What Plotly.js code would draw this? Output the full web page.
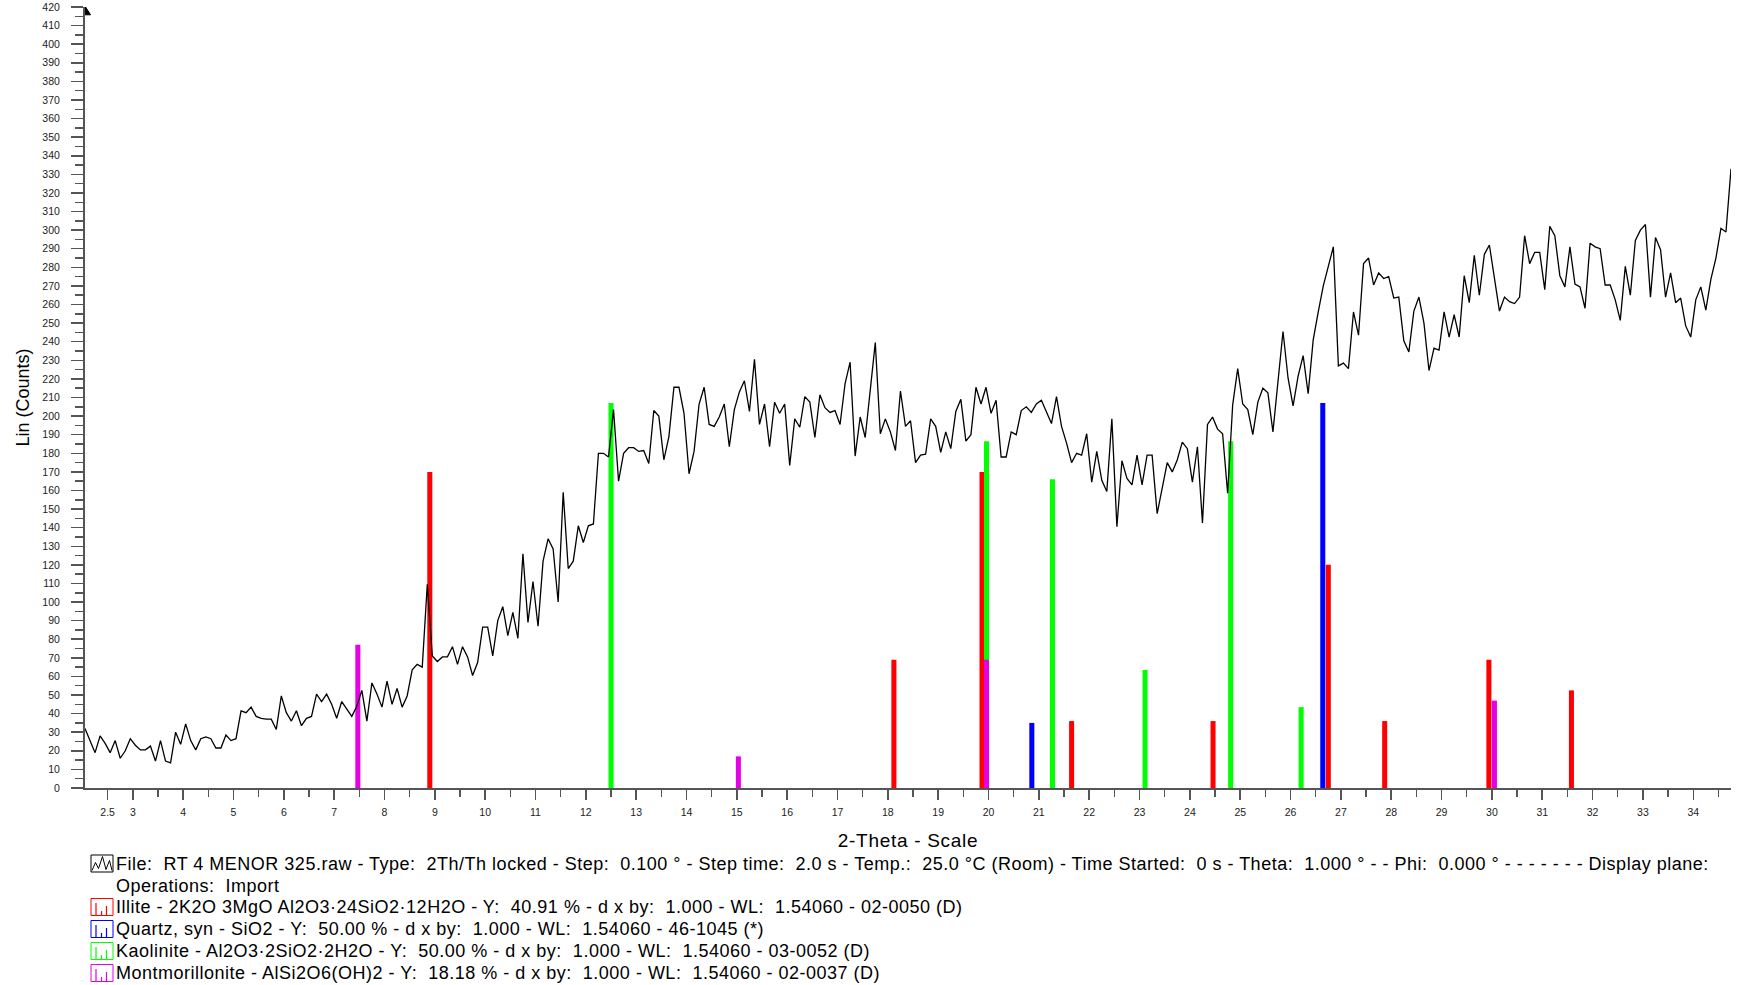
<!DOCTYPE html>
<html><head><meta charset="utf-8">
<script src="https://cdn.plot.ly/plotly-3.0.1.min.js"></script>
<style>
html,body{margin:0;padding:0;background:#fff;overflow:hidden;}
#chart{width:1742px;height:985px;}
.annotation-text{letter-spacing:0.5px;}
.xtitle{letter-spacing:0.7px;}
</style>
</head><body><div id="chart"></div>
<script>
// ---- Measured scan (File: RT 4 MENOR 325.raw, Step 0.100 deg) ----
const startAngle = 2.05;
const stepSize = 0.1;
const counts = [
 32, 25, 19, 28, 24, 19, 25.5, 16, 20, 26.5,
 23, 20.5, 20.5, 22.5, 14.5, 25.5, 14.5, 13.5, 30, 23.5,
 34.5, 25.5, 20.5, 26.5, 27.5, 26.5, 21.5, 21.5, 28.5, 25.5,
 26.5, 41.5, 40.5, 43.5, 38.5, 37.5, 37, 37, 31.5, 49.5,
 40.5, 36, 41.5, 33.5, 37.5, 38.5, 50.5, 46.5, 50.5, 45,
 37.5, 46.5, 42.5, 38.5, 44, 52.5, 36, 56.5, 50.5, 43.5,
 57.5, 45, 53.5, 43.5, 49.5, 63.5, 66.5, 65, 109.5, 71,
 68, 70.5, 70.5, 76, 66.5, 76, 70.5, 60.5, 67.5, 86.5,
 86.5, 71, 90, 97.5, 82, 94.5, 80.5, 126, 89, 111,
 87, 122, 134, 128.5, 100, 159, 118, 122, 141, 132,
 141, 142, 180, 180, 178, 203.5, 165, 180, 183, 183,
 181, 181.5, 174.5, 203, 200, 176.5, 189, 215.5, 215.5, 201.5,
 169, 181, 206.5, 215.5, 195.5, 194.5, 199.5, 206.5, 183.5, 203.5,
 213, 219, 202.5, 230.5, 195.5, 206.5, 183.5, 207.5, 201.5, 206.5,
 173.5, 198.5, 194, 210.5, 207.5, 188.5, 211.5, 204.5, 202, 203,
 195.5, 217.5, 229, 178.5, 199.5, 188.5, 214, 239.5, 190.5, 198.5,
 191.5, 181.5, 213.5, 194.5, 197.5, 175, 179, 179.5, 198.5, 194.5,
 180.5, 191.5, 182.5, 202.5, 209, 186.5, 190, 215.5, 206.5, 215.5,
 201.5, 208.5, 178, 178, 191.5, 190, 203, 205, 202, 206.5,
 208.5, 202.5, 196, 210.5, 194.5, 185.5, 175, 180, 179, 190.5,
 164.5, 181, 165.5, 159.5, 198.5, 140.5, 176, 166.5, 163, 179,
 163, 179, 179, 147.5, 161, 175, 170, 176.5, 186, 182.5,
 164.5, 183.5, 142.5, 195.5, 199.5, 193, 190.5, 158.5, 206, 225.5,
 206.5, 203.5, 190, 207.5, 215, 212.5, 191.5, 220, 245.5, 220.5,
 205.5, 221.5, 232.5, 212, 241, 256, 270, 280.5, 291, 227,
 228.5, 225.5, 256, 243.5, 282, 285, 270.5, 277, 274, 275,
 263.5, 264, 240.5, 234.5, 256.5, 264, 250, 224.5, 236.5, 235.5,
 256, 242.5, 254.5, 242.5, 275.5, 261, 286.5, 265, 287, 292,
 274, 256.5, 264, 261.5, 260.5, 264, 297, 282, 288, 288,
 268, 302, 297, 275.5, 269.5, 291, 271, 269.5, 258, 293,
 291, 290, 270.5, 270.5, 262.5, 251.5, 280.5, 265, 294.5, 300,
 303, 264, 296, 289.5, 264, 277, 261, 263.5, 248.5, 242.5,
 262.5, 269.5, 257, 273.5, 285, 301, 299, 333
];
const angles = counts.map((_, i) => +(startAngle + i * stepSize).toFixed(2));

// ---- Reference patterns (stick positions / heights) ----
const illiteAngles  = [8.90, 18.12, 19.87, 21.65, 24.46, 26.75, 27.87, 29.94, 31.58];
const illiteHeights = [170, 69, 170, 36, 36, 120, 36, 69, 52.5];
const quartzAngles  = [20.86, 26.64];
const quartzHeights = [35, 207];
const kaoliniteAngles  = [12.50, 19.96, 21.27, 23.11, 24.81, 26.21];
const kaoliniteHeights = [207, 186.5, 166, 63.5, 186.5, 43.5];
const montAngles  = [7.47, 15.03, 19.96, 30.05];
const montHeights = [77, 17, 69, 47];

// ---- Tick labels ----
const xTickVals = [2.5, 3, 4, 5, 6, 7, 8, 9, 10, 11, 12, 13, 14, 15, 16, 17, 18, 19, 20, 21, 22, 23, 24, 25, 26, 27, 28, 29, 30, 31, 32, 33, 34];
const xTickText = ['2.5', '3', '4', '5', '6', '7', '8', '9', '10', '11', '12', '13', '14', '15', '16', '17', '18', '19', '20', '21', '22', '23', '24', '25', '26', '27', '28', '29', '30', '31', '32', '33', '34'];

// ---- Legend texts ----
const S2 = '\u00a0 ';
const legendLines = [
  'File:' + S2 + 'RT 4 MENOR 325.raw - Type:' + S2 + '2Th/Th locked - Step:' + S2 + '0.100 ° - Step time:' + S2 + '2.0 s - Temp.:' + S2 + '25.0 °C (Room) - Time Started:' + S2 + '0 s - Theta:' + S2 + '1.000 ° - - Phi:' + S2 + '0.000 ° - - - - - - - Display plane:',
  'Operations:' + S2 + 'Import',
  'Illite - 2K2O 3MgO Al2O3·24SiO2·12H2O - Y:' + S2 + '40.91 % - d x by:' + S2 + '1.000 - WL:' + S2 + '1.54060 - 02-0050 (D)',
  'Quartz, syn - SiO2 - Y:' + S2 + '50.00 % - d x by:' + S2 + '1.000 - WL:' + S2 + '1.54060 - 46-1045 (*)',
  'Kaolinite - Al2O3·2SiO2·2H2O - Y:' + S2 + '50.00 % - d x by:' + S2 + '1.000 - WL:' + S2 + '1.54060 - 03-0052 (D)',
  'Montmorillonite - AlSi2O6(OH)2 - Y:' + S2 + '18.18 % - d x by:' + S2 + '1.000 - WL:' + S2 + '1.54060 - 02-0037 (D)'
];
const legendIcons = ['file', null, '#FF0000', '#0000FF', '#00FF00', '#E600E6'];

// ---- Layout geometry ----
const W = 1742, H = 985, ML = 85, MR = 11, MT = 7, MB = 197;
const PW = W - ML - MR, PH = H - MT - MB;
const pxX = px => (px - ML) / PW;
const pxY = py => (H - MB - py) / PH;
const FONT = '"Liberation Sans", Arial, sans-serif';
const AXC = '#555';

function sticks(xs, ys, color, name) {
  return {type: 'bar', x: xs, y: ys, width: xs.map(() => 0.1), name: name,
          marker: {color: color, line: {width: 0}}, hoverinfo: 'x+y'};
}
const traces = [
  sticks(illiteAngles, illiteHeights, '#FF0000', 'Illite'),
  sticks(quartzAngles, quartzHeights, '#0000FF', 'Quartz'),
  sticks(kaoliniteAngles, kaoliniteHeights, '#00FF00', 'Kaolinite'),
  sticks(montAngles, montHeights, '#E600E6', 'Montmorillonite'),
  {type: 'scatter', mode: 'lines', x: angles, y: counts, name: 'RT 4 MENOR 325',
   line: {color: '#000', width: 1.3}}
];

const rowY = [863.5, 885.5, 907, 929, 951, 973];
const shapes = [];
const annotations = [];
legendLines.forEach((t, i) => {
  const yc = rowY[i];
  annotations.push({xref: 'paper', yref: 'paper', x: pxX(115), y: pxY(yc), xanchor: 'left', yanchor: 'middle',
    text: t, showarrow: false, font: {family: FONT, size: 18, color: '#000'}, borderpad: 0});
  const ic = legendIcons[i];
  if (!ic) return;
  const col = ic === 'file' ? '#000' : ic;
  shapes.push({type: 'rect', xref: 'paper', yref: 'paper', x0: pxX(91), x1: pxX(113), y0: pxY(yc + 8.5), y1: pxY(yc - 8.5),
    line: {color: col, width: 1}, fillcolor: 'rgba(0,0,0,0)'});
  if (ic === 'file') {
    const pts = [[92, yc + 7], [95.5, yc - 1], [98.5, yc + 5], [102.5, yc - 7], [106, yc + 6], [109.5, yc - 3], [112, yc + 7]];
    shapes.push({type: 'path', xref: 'paper', yref: 'paper',
      path: pts.map((p, k) => (k ? 'L' : 'M') + pxX(p[0]) + ',' + pxY(p[1])).join(' '),
      line: {color: '#000', width: 1}});
  } else {
    [[96, yc - 4], [101.5, yc + 4], [106.5, yc - 1]].forEach(b => {
      shapes.push({type: 'line', xref: 'paper', yref: 'paper', x0: pxX(b[0]), x1: pxX(b[0]), y0: pxY(yc + 8.5), y1: pxY(b[1]),
        line: {color: col, width: 1.2}});
    });
  }
});
// arrow head at top of the intensity axis
shapes.push({type: 'path', xref: 'x', yref: 'y', path: 'M2.05,420.5 L2.16,415.8 L2.05,415.8 Z',
  fillcolor: '#000', line: {color: '#000', width: 1}});

const layout = {
  width: W, height: H,
  margin: {l: ML, r: MR, t: MT, b: MB, pad: 0},
  paper_bgcolor: '#fff', plot_bgcolor: '#fff',
  showlegend: false,
  barmode: 'overlay',
  font: {family: FONT, color: '#000'},
  xaxis: {
    range: [2.05, 34.75], showline: true, linecolor: AXC, linewidth: 2,
    ticks: 'outside', ticklen: 10, tickwidth: 1.5, tickcolor: AXC,
    tickmode: 'array', tickvals: xTickVals, ticktext: xTickText,
    tickfont: {family: FONT, size: 10.5, color: '#222'}, ticklabelstandoff: 3,
    showgrid: false, zeroline: false,
    minor: {dtick: 0.5, tick0: 0, ticks: 'outside', ticklen: 7, tickwidth: 1.5, tickcolor: AXC, showgrid: false},
    title: {text: '2-Theta - Scale', font: {family: FONT, size: 19, color: '#000'}, standoff: 17}
  },
  yaxis: {
    range: [0, 420], showline: true, linecolor: AXC, linewidth: 2,
    ticks: 'outside', ticklen: 12, tickwidth: 1.5, tickcolor: AXC,
    dtick: 10, tick0: 0,
    tickfont: {family: FONT, size: 10.5, color: '#222'}, ticklabelstandoff: 9,
    showgrid: false, zeroline: false,
    minor: {dtick: 5, tick0: 0, ticks: 'outside', ticklen: 8, tickwidth: 1.5, tickcolor: AXC, showgrid: false},
    title: {text: 'Lin (Counts)', font: {family: FONT, size: 18, color: '#000'}, standoff: 8}
  },
  shapes: shapes,
  annotations: annotations
};

Plotly.newPlot('chart', traces, layout, {displayModeBar: false, staticPlot: true});
</script>
</body></html>
